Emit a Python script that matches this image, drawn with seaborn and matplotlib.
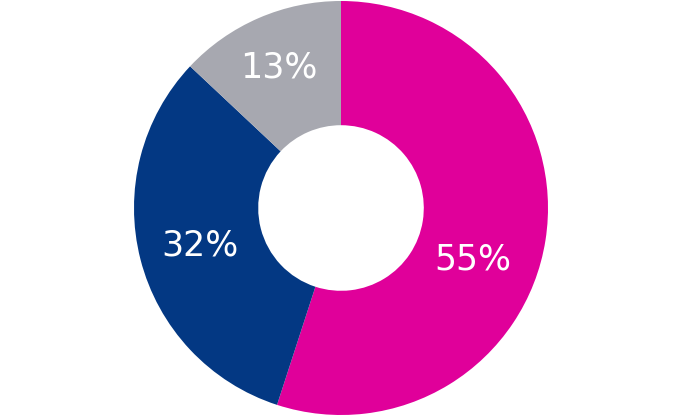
import numpy as np
import matplotlib.pyplot as plt
import seaborn as sns

sns.set_style("white")
plt.rcParams['font.family'] = ['DejaVu Sans']

categories = ["A", "B", "C"]
shares = [55, 32, 13]
labels = ["55%", "32%", "13%"]
colors = ["#E0009A", "#033883", "#A7A8B0"]
label_shift = [-11, -1, 0]      # degrees, nudge of label along the ring
label_radius = [0.68, 0.70, 0.76]

fig = plt.figure(figsize=(6.8, 4.16), dpi=100)
ax = fig.add_axes([134 / 680, 1 / 416, 414 / 680, 414 / 416])

wedges, _ = ax.pie(shares, colors=colors, startangle=90, counterclock=False,
                   radius=1.0, wedgeprops=dict(width=0.60, linewidth=0))

# put the percent labels in the ring
for w, lab, shift, r in zip(wedges, labels, label_shift, label_radius):
    ang = np.deg2rad((w.theta1 + w.theta2) / 2 + shift)
    ax.text(r * np.cos(ang), r * np.sin(ang), lab, ha="center",
            va="center_baseline", color="white", fontsize=25)

ax.set_xlim(-1, 1)
ax.set_ylim(-1, 1)
ax.set_aspect("equal")
ax.axis("off")

fig.savefig("out.png", dpi=100)
